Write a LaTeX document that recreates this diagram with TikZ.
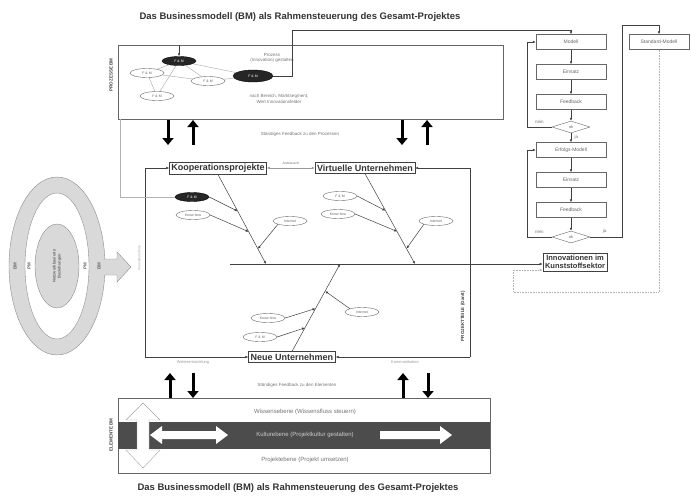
\documentclass[tikz,border=0pt]{standalone}
\usepackage{fontspec}
\setmainfont{Liberation Sans}
\usetikzlibrary{shapes.geometric,arrows.meta,calc}

\begin{document}
\begin{tikzpicture}[x=1pt,y=-1pt,
   box/.style={rectangle,draw=black!75,line width=0.6pt,inner sep=+2pt,
    align=center,font=\fontsize{9}{10}\selectfont\bfseries,text=black!80},
   fbox/.style={rectangle,draw=black!60,minimum width=70pt,minimum height=15pt,
    inner sep=+1pt,font=\fontsize{5}{6}\selectfont,text=black!60},
   dec/.style={diamond,draw=black!60,aspect=3.2,minimum width=38pt,
    minimum height=12pt,inner sep=+0pt,font=\fontsize{4}{5}\selectfont,text=black!60},
   ell/.style={ellipse,draw=black!60,fill=white,minimum width=34pt,
    minimum height=9pt,inner sep=+0pt,font=\fontsize{3.5}{4}\selectfont,text=black!60},
   dell/.style={ell,fill=black!85,draw=black,text=white},
   note/.style={align=center,font=\fontsize{4.5}{5.5}\selectfont,text=black!55},
   vlab/.style={rotate=90,font=\fontsize{4.5}{5}\selectfont\bfseries,text=black!75},
   title/.style={font=\fontsize{9.5}{11}\selectfont\bfseries,text=black!80},
   flow/.style={draw=black!75,line width=0.5pt,-{Latex[length=3pt,width=2.5pt]}},
   fb/.style={draw=black,line width=3pt,-{Triangle[length=7pt,width=11pt]}}
    ]
  \useasboundingbox (0,0) rectangle (691,498);

  % -- titles
  \node[title] at (300,17) (ttop) {Das Businessmodell (BM) als Rahmensteuerung des Gesamt-Projektes};
  \node[title] at (298,488) (tbot) {Das Businessmodell (BM) als Rahmensteuerung des Gesamt-Projektes};

  % -- top frame (Prozesse)
  \node[rectangle,draw=black!60,minimum width=385pt,minimum height=74pt] at (310.5,82) (proz) {};
  \node[vlab] at (111,75) (lproz) {PROZESSE BM};
  \node[dell] at (179,61) (p1) {F \& M};
  \node[ell] at (147,73) (p2) {F \& M};
  \node[ell] at (208,81) (p3) {F \& M};
  \node[ell] at (157,96) (p4) {F \& M};
  \node[dell,minimum width=40pt,minimum height=12pt] at (253,76) (p5) {F \& M};
  \node[note] at (272,58) (n1) {Prozess\\(Innovation) gestalten};
  \node[note] at (279,99) (n2) {nach Bereich, Marktsegment,\\Wert Innovationsfelder};
  \coordinate (p1in) at (179,45);
  \draw[flow] (p1in) -- (p1);
  \draw[black!35,line width=0.4pt] (p1) -- (p2) (p1) -- (p3) (p1) -- (p4)
    (p2) -- (p4) (p2) -- (p3) (p1) -- (p5) (p3) -- (p5);

  % -- feedback arrows (top)
  \draw[fb] (168,120) -- (168,145);
  \draw[fb] (193,145) -- (193,120);
  \draw[fb] (402,120) -- (402,145);
  \draw[fb] (427,145) -- (427,120);
  \node[note] at (300,134) (fbp) {Ständiges Feedback zu den Prozessen};

  % -- flowchart right
  \node[fbox] at (571,42) (m1) {Modell};
  \node[fbox] at (571,72) (m2) {Einsatz};
  \node[fbox] at (571,102) (m3) {Feedback};
  \node[dec] at (571,127) (d1) {ok};
  \node[fbox] at (571,150) (m4) {Erfolgs-Modell};
  \node[fbox] at (571,180) (m5) {Einsatz};
  \node[fbox] at (571,210) (m6) {Feedback};
  \node[dec] at (571,237) (d2) {ok};
  \node[fbox,minimum width=60pt] at (659,42) (s1) {Standard-Modell};
  \node[box,font=\fontsize{7.5}{8.5}\selectfont\bfseries] at (575,262) (inno) {Innovationen im\\Kunststoffsektor};

  \draw[flow] (m1) -- (m2);
  \draw[flow] (m2) -- (m3);
  \draw[flow] (m3) -- (d1);
  \draw[flow] (d1) -- node[note,right,pos=0.4] {ja} (m4);
  \draw[flow] (m4) -- (m5);
  \draw[flow] (m5) -- (m6);
  \draw[flow] (m6) -- (d2);
  \coordinate (l1) at (527,127);
  \coordinate (l2) at (527,237);
  \draw[flow] (d1.west) -- node[note,above] {nein} (l1) |- (m1.west);
  \draw[flow] (d2.west) -- node[note,above] {nein} (l2) |- (m4.west);
  \coordinate (r2) at (622,25);
  \draw[flow] (d2.east) -- node[note,above,pos=0.45] {ja} (d2.east -| r2) -- (r2) -| (s1.north);
  \coordinate (k1) at (292,30);
  \draw[flow] (p5.east) -| (k1) -| (m1.north);

  % -- dotted return
  \coordinate (r3) at (513,292);
  \coordinate (r4) at (513,270);
  \draw[black!30,densely dotted,line width=0.6pt,-{Latex[length=3pt,width=2.5pt]}]
    (s1.south) |- (r3) -- (r4) -- (inno.west |- r4);

  % -- middle frame
  \node[box] at (218,168) (koop) {Kooperationsprojekte};
  \node[box] at (365,168) (virt) {Virtuelle Unternehmen};
  \node[box] at (292,357) (neu) {Neue Unternehmen};
  \coordinate (c3) at (145,357);
  \coordinate (c4) at (470,357);
  \draw[flow] (c3) |- (koop.west);
  \draw[flow] (c3) -- (neu.west);
  \draw[flow] (c4) |- (virt.east);
  \draw[flow] (c4) -- (neu.east);
  \draw[flow,black!40,{Latex[length=3pt,width=2.5pt]}-{Latex[length=3pt,width=2.5pt]}] (koop) -- node[note,above,font=\fontsize{3.5}{4}\selectfont] {Austausch} (virt);
  \node[note,font=\fontsize{4}{5}\selectfont,text=black!40] at (193,362) (lw) {Weiterentwicklung};
  \node[note,font=\fontsize{4}{5}\selectfont,text=black!40] at (405,362) (lk) {Kommunikation};
  \node[vlab,font=\fontsize{4.5}{5}\selectfont\bfseries] at (463,316) (lpt) {PROJEKTTEILE (Gantt)};
  \node[vlab,font=\fontsize{3.5}{4}\selectfont,text=black!35] at (139,258) (lif) {Innovationsfluss};
  \coordinate (g1) at (120,119);

  % -- fishbone
  \coordinate (sp) at (230,264);
  \coordinate (ks) at (266,264);
  \coordinate (vs) at (415,264);
  \coordinate (ns) at (340,264);
  \draw[flow] (sp) -- (inno.west |- sp);
  \draw[flow] (koop.south) -- (ks);
  \draw[flow] (virt.south) -- (vs);
  \draw[flow] (neu.north) -- (ns);

  \node[dell] at (192,197) (kf) {F \& M};
  \node[ell] at (193,215) (kk) {Know-how};
  \node[ell] at (290,221) (ki) {Internet};
  \node[ell] at (340,196) (vf) {F \& M};
  \node[ell] at (338,214) (vk) {Know-how};
  \node[ell] at (436,221) (vi) {Internet};
  \node[ell] at (260,337) (nf) {F \& M};
  \node[ell] at (268,318) (nk) {Know-how};
  \node[ell] at (362,312) (ni) {Internet};
  \draw[black!30,line width=0.4pt] (g1) |- (kf.west);

  \draw[flow] (kf.east) -- ($(koop.south)!0.41!(ks)$);
  \draw[flow] (kk.east) -- ($(koop.south)!0.64!(ks)$);
  \draw[flow] (ki.south west) -- ($(koop.south)!0.83!(ks)$);
  \draw[flow] (vf.east) -- ($(virt.south)!0.41!(vs)$);
  \draw[flow] (vk.east) -- ($(virt.south)!0.64!(vs)$);
  \draw[flow] (vi.south west) -- ($(virt.south)!0.83!(vs)$);
  \draw[flow] (nf.east) -- ($(neu.north)!0.27!(ns)$);
  \draw[flow] (nk.east) -- ($(neu.north)!0.49!(ns)$);
  \draw[flow] (ni.north west) -- ($(neu.north)!0.69!(ns)$);

  % -- left rings
  \filldraw[fill=black!15,draw=black!45] (57,266) ellipse [x radius=48pt,y radius=89pt];
  \filldraw[fill=white,draw=black!45] (57,266) ellipse [x radius=32pt,y radius=73pt];
  \node[ellipse,draw=black!45,fill=black!15,minimum width=44pt,minimum height=84pt,
    inner sep=+0pt] at (57,266) (core) {};
  \node[vlab,align=center,font=\fontsize{4}{5}\selectfont\bfseries,text=black!60] at (core) (lcore) {Netzwerkbasierte\\Beziehungen};
  \node[vlab,text=black!60] at (15,266) (r1a) {BM};
  \node[vlab,text=black!60] at (99,266) (r1b) {BM};
  \node[vlab,text=black!60] at (29,266) (r2a) {PM};
  \node[vlab,text=black!60] at (85,266) (r2b) {PM};
  \filldraw[fill=black!15,draw=black!45] (104,259) -- (117,259) -- (117,252) -- (131,267)
    -- (117,282) -- (117,275) -- (104,275);

  % -- feedback arrows (bottom)
  \draw[fb] (170,398) -- (170,373);
  \draw[fb] (193,373) -- (193,398);
  \draw[fb] (403,398) -- (403,373);
  \draw[fb] (428,373) -- (428,398);
  \node[note] at (297,385) (fbe) {Ständiges Feedback zu den Elementen};

  % -- bottom frame (Elemente)
  \draw[black!60] (118,398) rectangle (490,473);
  \fill[black!70] (118,422) rectangle (490,449);
  \node[vlab] at (111,435) (lel) {ELEMENTE BM};
  \filldraw[fill=white,draw=black!35] (143,403) -- (160,420) -- (149,420) -- (149,450)
    -- (160,450) -- (143,468) -- (126,450) -- (137,450) -- (137,420) -- (126,420) -- cycle;
  \fill[white] (150,435) -- (162,426) -- (162,431) -- (216,431) -- (216,426) -- (228,435)
    -- (216,444) -- (216,439) -- (162,439) -- (162,444) -- cycle;
  \fill[white] (380,431) -- (440,431) -- (440,426) -- (452,435) -- (440,444) -- (440,439)
    -- (380,439) -- cycle;
  \node[note,font=\fontsize{6}{7}\selectfont] at (305,412) (ew) {Wissensebene (Wissensfluss steuern)};
  \node[note,font=\fontsize{6}{7}\selectfont,text=black!20] at (305,435) (ek) {Kulturebene (Projektkultur gestalten)};
  \node[note,font=\fontsize{6}{7}\selectfont] at (305,460) (ep) {Projektebene (Projekt umsetzen)};
\end{tikzpicture}
\end{document}
